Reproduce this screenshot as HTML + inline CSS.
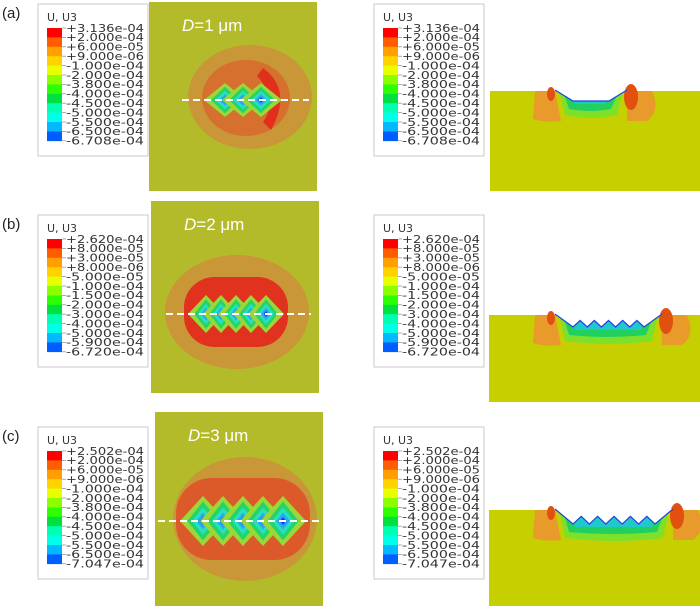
<!DOCTYPE html>
<html><head><meta charset="utf-8"><style>
html,body{margin:0;padding:0;background:#fff;}
svg{display:block;font-family:"DejaVu Sans","Liberation Sans",sans-serif;}
</style></head><body>
<svg id="fig" width="700" height="616" viewBox="0 0 700 616"></svg>
<script>
const rowLabels = ["(a)", "(b)", "(c)"];
const spacingTitles = ["1", "2", "3"];
const legendA = ["+3.136e-04","+2.000e-04","+6.000e-05","+9.000e-06","-1.000e-04","-2.000e-04","-3.800e-04","-4.000e-04","-4.500e-04","-5.000e-04","-5.500e-04","-6.500e-04","-6.708e-04"];
const legendB = ["+2.620e-04","+8.000e-05","+3.000e-05","+8.000e-06","-5.000e-05","-1.000e-04","-1.500e-04","-2.000e-04","-3.000e-04","-4.000e-04","-5.000e-04","-5.900e-04","-6.720e-04"];
const legendC = ["+2.502e-04","+2.000e-04","+6.000e-05","+9.000e-06","-1.000e-04","-2.000e-04","-3.800e-04","-4.000e-04","-4.500e-04","-5.000e-04","-5.500e-04","-6.500e-04","-7.047e-04"];
const bandColors = ["#ff0000","#ff5d00","#ffa000","#ffd200","#e8ff00","#8bff00","#2eff00","#00e040","#00ffb0","#00ffe8","#00b9ff","#005dff","#0000ff"];
const dimpleCounts = [3, 5, 5];

const NS="http://www.w3.org/2000/svg";
const svg=document.getElementById('fig');
function mk(tag,attrs,parent){const e=document.createElementNS(NS,tag);for(const k in attrs)e.setAttribute(k,attrs[k]);(parent||svg).appendChild(e);return e;}

const rows=[
 {legY:4, panel:{x:149,y:2,w:168,h:189}, cx:243, cy:100, halo:[250,97,62,52], cs:{x:490,y:91,b:191}, legend:legendA},
 {legY:215, panel:{x:151,y:201,w:168,h:192}, cx:236, cy:314, halo:[237,312,72,57], cs:{x:489,y:315,b:402}, legend:legendB},
 {legY:427, panel:{x:155,y:412,w:168,h:194}, cx:243, cy:521, halo:[245,519,72,62], cs:{x:489,y:510,b:606}, legend:legendC}
];

function legend(x,y,labels,name){
  const g=mk('g',{});
  
  
  mk('rect',{x:x,y:y,width:110,height:152,fill:'#fff',stroke:'#c8c8c8','stroke-width':1},g);
  const t=mk('text',{x:x+9,y:y+17,'font-size':10.5,fill:'#333',textLength:30,lengthAdjust:'spacingAndGlyphs'},g);t.textContent='U, U3';
  const top=y+24, step=9.4;
  for(let i=0;i<labels.length-1;i++){
    const r=mk('rect',{x:x+9,y:top+i*step,width:15,height:step+0.3,fill:bandColors[i]},g);
    
    
  }
  for(let i=0;i<labels.length;i++){
    mk('line',{x1:x+24,y1:top+i*step,x2:x+28,y2:top+i*step,stroke:'#888','stroke-width':0.7},g);
    const l=mk('text',{x:x+28,y:top+i*step+3.8,'font-size':10.5,fill:'#333',textLength:78,lengthAdjust:'spacingAndGlyphs'},g);
    l.textContent=labels[i];
    
    
  }
}

rows.forEach((r,ri)=>{
  const lab=mk('text',{x:2,y:r.legY+14,'font-size':15,fill:'#222',"font-family":"Liberation Sans"});
  lab.textContent=rowLabels[ri];
  
  
  legend(38,r.legY,r.legend,'legend-top-view');
  legend(374,r.legY,r.legend,'legend-cross-section');

  const p=r.panel;
  const g=mk('g',{});
  
  
  mk('rect',{x:p.x,y:p.y,width:p.w,height:p.h,fill:'#b4bb2a'},g);
  const n=dimpleCounts[ri];
  const dw = ri===0?18:(ri===1?15:20);
  const dh = ri===0?34:(ri===1?38:50);
  const span=(n-1)*dw;
  const h0=r.halo;
  mk('ellipse',{cx:h0[0],cy:h0[1],rx:h0[2],ry:h0[3],fill:'#c99638'},g);
  if(ri===0){
    mk('ellipse',{cx:r.cx+3,cy:r.cy-2,rx:44,ry:38,fill:'#d6702e'},g);
    mk('path',{d:`M${r.cx+20},${r.cy-32} Q${r.cx+50},${r.cy-10} ${r.cx+28},${r.cy+30} L${r.cx+20},${r.cy+22} Q${r.cx+36},${r.cy} ${r.cx+14},${r.cy-24}Z`,fill:'#e0301c'},g);
  } else {
    const w=span+dw*2+14, h=dh+32;
    mk('rect',{x:r.cx-w/2,y:r.cy-h/2-2,width:w,height:h,rx:h/2.3,fill:ri===1?'#e0321e':'#dc5a2a'},g);
  }
  const x0=r.cx-span/2;
  for(let i=0;i<n;i++){
    const cx=x0+i*dw;
    const layers=[[1,'#9ad83a'],[0.78,'#22d46a'],[0.55,'#28e0c0'],[0.34,'#2aa8ef'],[0.16,'#1a3cf0']];
    layers.forEach(([s,c])=>{
      const hw=dw*s+(s===1?3:0), hh=dh/2*s;
      const d=mk('path',{d:`M${cx-hw},${r.cy} L${cx},${r.cy-hh} L${cx+hw},${r.cy} L${cx},${r.cy+hh}Z`,fill:c},g);
      
      
    });
  }
  const lx1=x0-dw-25, lx2=x0+span+dw+30;
  mk('line',{x1:lx1,y1:r.cy,x2:lx2,y2:r.cy,stroke:'#fff','stroke-width':2,'stroke-dasharray':'7,4'},g);
  const tt=mk('text',{x:p.x+33,y:p.y+29,'font-size':17,fill:'#fff',"font-family":"Liberation Sans"},g);
  tt.innerHTML='<tspan font-style="italic">D</tspan>='+spacingTitles[ri]+' μm';
  
  

  const c=r.cs;
  const cg=mk('g',{});
  
  
  mk('rect',{x:c.x,y:c.y,width:700-c.x,height:c.b-c.y,fill:'#c6d000'},cg);
  const nx1=555, nx2= ri===0?627:(ri===1?662:673);
  const depth= ri===0?10:(ri===1?12:14);
  mk('path',{d:`M${nx1-20},${c.y} L${nx1},${c.y} L${nx1+6},${c.y+30} Q${nx1-10},${c.y+32} ${nx1-22},${c.y+28}Z`,fill:'#e89a2a'},cg);
  mk('path',{d:`M${nx2},${c.y} L${nx2+25},${c.y} Q${nx2+34},${c.y+20} ${nx2+20},${c.y+30} L${nx2},${c.y+30}Z`,fill:'#e89a2a'},cg);
  mk('ellipse',{cx:nx2+4,cy:c.y+6,rx:7,ry:13,fill:'#e25010'},cg);
  mk('ellipse',{cx:nx1-4,cy:c.y+3,rx:4,ry:7,fill:'#e25010'},cg);
  mk('path',{d:`M${nx1+4},${c.y} L${nx2-4},${c.y} L${nx2-10},${c.y+depth+14} Q${(nx1+nx2)/2},${c.y+depth+20} ${nx1+10},${c.y+depth+14}Z`,fill:'#7fe02a'},cg);
  mk('path',{d:`M${nx1+8},${c.y} L${nx2-8},${c.y} L${nx2-16},${c.y+depth+8} Q${(nx1+nx2)/2},${c.y+depth+12} ${nx1+14},${c.y+depth+8}Z`,fill:'#22d060'},cg);
  mk('path',{d:`M${nx1+14},${c.y} L${nx2-14},${c.y} L${nx2-22},${c.y+depth+3} L${nx1+20},${c.y+depth+3}Z`,fill:'#20c8c8'},cg);
  let pts=`${nx1},${c.y-1} `;
  const m=dimpleCounts[ri];
  const inner1=nx1+18, inner2=nx2-18;
  pts+=`${inner1},${c.y+depth} `;
  for(let i=0;i<m;i++){
    const ax=inner1+(inner2-inner1)*(i/(m)), bx=inner1+(inner2-inner1)*((i+1)/m);
    if(ri>0){pts+=`${(ax+bx)/2},${c.y+depth*0.45} ${bx},${c.y+depth} `;}
  }
  pts+=`${inner2},${c.y+depth} ${nx2},${c.y-1}`;
  mk('polygon',{points:pts,fill:'#fff'},cg);
  mk('polyline',{points:pts,fill:'none',stroke:'#2040e0','stroke-width':1.2},cg);
});
</script>
</body></html>
